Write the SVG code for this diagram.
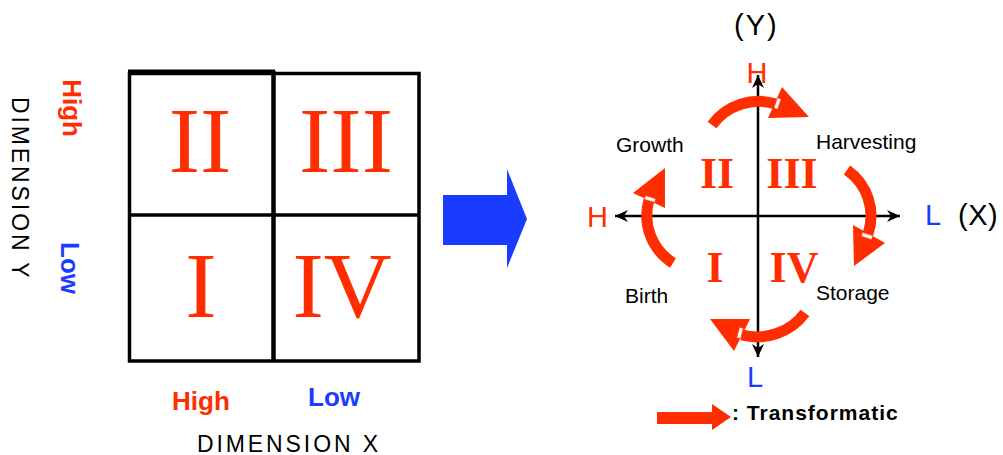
<svg xmlns="http://www.w3.org/2000/svg" width="1003" height="455" viewBox="0 0 1003 455">
<style>
.sans{font-family:"Liberation Sans",Arial,sans-serif}
.dim{font-family:"Liberation Sans",Arial,sans-serif;font-size:23px;fill:#000;letter-spacing:2.9px}
.hl{font-family:"Liberation Sans",Arial,sans-serif;font-size:26px;font-weight:bold}
.red{fill:#ff2d00}
.blue{fill:#1a3cff}
.bigrn{font-family:"Liberation Serif","Times New Roman",serif;font-size:94px;fill:#ff2d00;text-anchor:middle}
.smrn{font-family:"Liberation Serif","Times New Roman",serif;font-size:44px;font-weight:bold;fill:#ff2d00;text-anchor:middle}
.lbl{font-family:"Liberation Sans",Arial,sans-serif;font-size:21px;fill:#000}
.ax{font-family:"Liberation Sans",Arial,sans-serif;font-size:29px}
.grid{stroke:#000;fill:none}
.shaft{fill:none;stroke:#ff2d00;stroke-width:11}
.head{fill:#ff2d00}
.notch{fill:#fff;stroke:#ff2d00;stroke-width:0.6}
.axis{stroke:#000;stroke-width:2.5;fill:none}
</style>
<defs>
<marker id="ah" viewBox="0 -7 14 14" refX="13" refY="0" markerWidth="14" markerHeight="14" markerUnits="userSpaceOnUse" orient="auto-start-reverse">
<path d="M0,-6 L13,0 L0,6 L4,0 z" fill="#000"/>
</marker>
</defs>

<g id="left-labels">
<text class="dim" transform="translate(12,97) rotate(90)">DIMENSION Y</text>
<text class="hl red" text-anchor="middle" transform="translate(63,108) rotate(90)">High</text>
<text class="hl blue" text-anchor="middle" transform="translate(61,268) rotate(90)">Low</text>
<text class="hl red" x="172" y="410">High</text>
<text class="hl blue" x="308" y="406">Low</text>
<text class="dim" x="197" y="452">DIMENSION X</text>
</g>

<g id="grid">
<rect class="grid" x="129.5" y="73.5" width="289.5" height="287.5" stroke-width="3.5"/>
<line class="grid" x1="128" y1="71.5" x2="275" y2="71.5" stroke-width="4"/>
<line class="grid" x1="273.5" y1="71" x2="273.5" y2="362" stroke-width="4.5"/>
<line class="grid" x1="129" y1="215" x2="420" y2="215" stroke-width="3.5"/>
</g>

<g id="quadrants-left">
<text class="bigrn" x="200" y="172">II</text>
<text class="bigrn" x="346" y="172">III</text>
<text class="bigrn" x="201" y="317">I</text>
<text class="bigrn" x="342" y="317">IV</text>
</g>

<g id="blue-arrow">
<polygon points="443,195 507,195 507,169 527,219 507,268 507,245 443,245" fill="#1a3cff"/>
</g>

<g id="axes">
<line class="axis" x1="758" y1="75" x2="758" y2="357" marker-start="url(#ah)" marker-end="url(#ah)"/>
<line class="axis" x1="615" y1="216" x2="900" y2="216" marker-start="url(#ah)" marker-end="url(#ah)"/>
</g>

<g id="axis-labels">
<text class="ax" x="734" y="35" font-size="30" letter-spacing="2">(Y)</text>
<text class="ax red" x="757" y="83" text-anchor="middle">H</text>
<text class="ax red" x="597.5" y="227" font-size="30" text-anchor="middle">H</text>
<text class="ax blue" x="925" y="224.5">L</text>
<text class="ax" x="958" y="224.5" font-size="30" letter-spacing="0.5">(X)</text>
<text class="ax blue" x="755" y="387" text-anchor="middle">L</text>
</g>

<g id="quadrants-right">
<text class="smrn" x="717" y="188">II</text>
<text class="smrn" x="792" y="188">III</text>
<text class="smrn" x="715" y="282">I</text>
<text class="smrn" x="794" y="282">IV</text>
</g>

<g id="stage-labels">
<text class="lbl" x="616" y="152">Growth</text>
<text class="lbl" x="816" y="149">Harvesting</text>
<text class="lbl" x="625" y="303">Birth</text>
<text class="lbl" x="816" y="300">Storage</text>
</g>

<g id="connectors">
<path class="shaft" d="M712,125 A58,58 0 0 1 776,104"/>
<polygon class="head" points="782,87 809,117 768,118"/>
<rect class="notch" x="-2" y="-5.5" width="4" height="11" transform="translate(777.5,103.5) rotate(18)"/>

<path class="shaft" d="M847,170 A56,56 0 0 1 868,234"/>
<polygon class="head" points="853,225 885,243 854,266"/>
<rect class="notch" x="-2" y="-5.5" width="4" height="11" transform="translate(867,236) rotate(108.7)"/>

<path class="shaft" d="M805,313 A60,60 0 0 1 742,335"/>
<polygon class="head" points="750,319 734,351 710,319"/>
<rect class="notch" x="-2" y="-5.5" width="4" height="11" transform="translate(740,333) rotate(195.3)"/>

<path class="shaft" d="M673,263 A56,56 0 0 1 649,200"/>
<polygon class="head" points="665,208 633,193 665,168"/>
<rect class="notch" x="-2" y="-5.5" width="4" height="11" transform="translate(650,199) rotate(-73.3)"/>
</g>

<g id="legend">
<polygon points="657,412 712,412 712,404 731,417 712,430 712,424 657,424" fill="#ff2d00"/>
<text class="sans" x="732" y="420" font-size="21" font-weight="bold" letter-spacing="1">: Transformatic</text>
</g>
</svg>
